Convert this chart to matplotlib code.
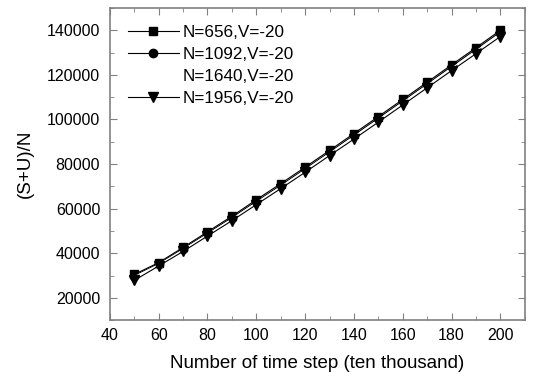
import numpy as np
import matplotlib.pyplot as plt
from matplotlib.ticker import MultipleLocator

plt.rcParams['font.family'] = ['Liberation Sans', 'DejaVu Sans']

# passos de tempo (dez mil)
steps = [50, 60, 70, 80, 90, 100, 110, 120, 130, 140, 150, 160, 170, 180, 190, 200]

# (S+U)/N
n656 = [30500, 35800, 42600, 49600, 56600, 64000, 71200, 78600, 86100, 93700,
        101300, 109000, 116700, 124500, 132200, 140000]
n1092 = [30000, 35300, 42100, 49000, 56000, 63300, 70500, 77900, 85400, 93000,
         100600, 108300, 116000, 123800, 131500, 139300]
n1640 = [29500, 34900, 41600, 48500, 55400, 62700, 69900, 77300, 84800, 92300,
         99900, 107600, 115300, 123000, 130700, 138500]
n1956 = [27800, 34300, 40800, 47700, 54600, 61800, 69000, 76300, 83800, 91200,
         98800, 106500, 114200, 121900, 129500, 137200]

labels = ['N=656,V=-20', 'N=1092,V=-20', 'N=1640,V=-20', 'N=1956,V=-20']

fig = plt.figure(figsize=(5.36, 3.82), dpi=100)
ax = fig.add_axes([0.205, 0.162, 0.774, 0.817])

ax.plot(steps, n656, color='black', lw=0.8, marker='s', ms=5.2, label=labels[0])
ax.plot(steps, n1092, color='black', lw=0.8, marker='o', ms=6, label=labels[1])
ax.plot(steps, n1640, color='white', lw=0.8, marker='^', ms=3.2, mfc='white', mec='white', label=labels[2])
ax.plot(steps, n1956, color='black', lw=0.8, marker='v', ms=6.5, label=labels[3])

ax.set_xlim(40, 210)
ax.set_ylim(10000, 150000)
ax.xaxis.set_major_locator(MultipleLocator(20))
ax.xaxis.set_minor_locator(MultipleLocator(10))
ax.yaxis.set_major_locator(MultipleLocator(20000))
ax.yaxis.set_minor_locator(MultipleLocator(10000))
ax.tick_params(which='both', direction='in', top=True, right=True, labelsize=11.5, color='#808080')
ax.tick_params(which='major', length=5)
ax.tick_params(which='minor', length=3)
ax.tick_params(axis='x', pad=6)
ax.tick_params(axis='y', pad=7)
for s in ax.spines.values():
    s.set_color('#808080')
    s.set_linewidth(1.2)

ax.set_xlabel('Number of time step (ten thousand)', fontsize=13.5, labelpad=8)
ax.set_ylabel('(S+U)/N', fontsize=13.5, labelpad=9)

ax.legend(loc='upper left', frameon=False, fontsize=12.3, handlelength=3.0,
          handletextpad=0.2, labelspacing=0.42, borderaxespad=0.4,
          bbox_to_anchor=(0.01, 0.99))

fig.savefig('out.png', dpi=100)
